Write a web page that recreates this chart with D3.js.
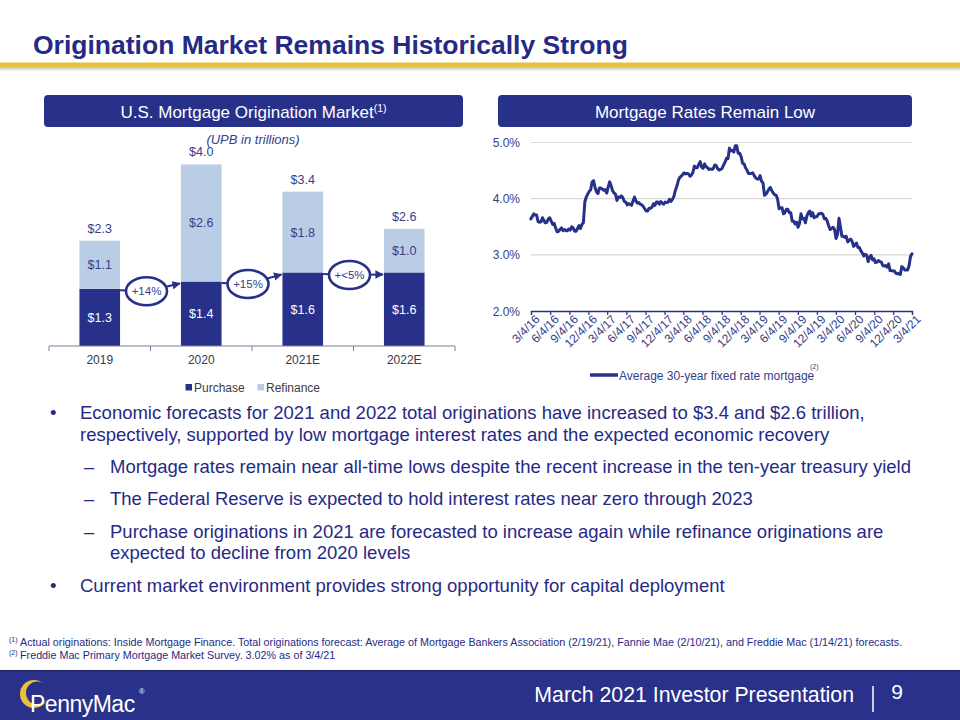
<!DOCTYPE html>
<html>
<head>
<meta charset="utf-8">
<script src="https://cdn.jsdelivr.net/npm/d3@7"></script>
<style>
  html, body { margin: 0; padding: 0; background: #fff; }
  svg { display: block; font-family: "Liberation Sans", Arial, Helvetica, sans-serif; }
</style>
</head>
<body>
<svg id="slide" width="960" height="720"></svg>
<script>
// ---------------- DATA ----------------
const categories = ["2019", "2020", "2021E", "2022E"];
const purchase   = [1.26, 1.42, 1.62, 1.62];
const refinance  = [1.06, 2.58, 1.78, 0.96];
const growthLabels = ["+14%", "+15%", "+<5%"];
const seriesNames = ["Purchase", "Refinance"];

const rateTickLabels = ["3/4/16","6/4/16","9/4/16","12/4/16","3/4/17","6/4/17","9/4/17","12/4/17",
  "3/4/18","6/4/18","9/4/18","12/4/18","3/4/19","6/4/19","9/4/19","12/4/19",
  "3/4/20","6/4/20","9/4/20","12/4/20","3/4/21"];
const rateYTicks = [2, 3, 4, 5];
const rateFirstWeek = "2016-03-03";
// Weekly average 30-year fixed rate (%)
const rates = [
  // 2016 (from Mar 3)
  3.64,3.68,3.73,3.71,3.71, 3.59,3.58,3.59,3.66, 3.61,3.57,3.58,3.64, 3.66,3.60,3.54,3.56,3.48,
  3.41,3.42,3.45,3.48, 3.43,3.45,3.43,3.43, 3.46,3.44,3.50,3.48,3.42, 3.42,3.47,3.52,3.47,
  3.54,3.57,3.94,4.03, 4.08,4.13,4.16,4.30,4.32,
  // 2017
  4.20,4.12,4.09,4.19, 4.19,4.17,4.15,4.16, 4.10,4.21,4.30,4.23,4.14, 4.10,4.08,3.97,4.03,
  4.02,4.05,4.02,3.95, 3.94,3.89,3.91,3.90,3.88, 3.96,4.03,3.96,3.92, 3.93,3.90,3.89,3.86,3.82,
  3.78,3.78,3.83,3.83, 3.85,3.91,3.88,3.94, 3.94,3.90,3.95,3.92,3.90, 3.94,3.93,3.94,3.99,
  // 2018
  3.95,3.99,4.04,4.15, 4.22,4.32,4.38,4.40, 4.43,4.46,4.44,4.45,4.44, 4.40,4.42,4.47,4.58,
  4.55,4.55,4.61,4.66,4.56, 4.54,4.62,4.57,4.55, 4.52,4.53,4.52,4.54, 4.60,4.59,4.53,4.51,4.52,
  4.54,4.60,4.65,4.72, 4.71,4.90,4.85,4.86, 4.83,4.94,4.94,4.81,4.81, 4.75,4.63,4.62,4.55,
  // 2019
  4.51,4.45,4.45,4.45,4.46, 4.41,4.37,4.35,4.35, 4.41,4.31,4.28,4.06, 4.08,4.12,4.17,4.20,
  4.14,4.10,4.07,4.06,3.99, 3.82,3.84,3.84,3.73, 3.75,3.81,3.81,3.75, 3.75,3.60,3.60,3.55,3.58,
  3.49,3.56,3.73,3.64, 3.65,3.57,3.69,3.75,3.78, 3.69,3.75,3.66,3.68, 3.68,3.73,3.73,3.74,
  // 2020
  3.72,3.64,3.65,3.60,3.51, 3.45,3.47,3.49,3.45, 3.29,3.36,3.65,3.50, 3.33,3.33,3.31,3.33,3.23,
  3.26,3.28,3.24,3.15, 3.18,3.21,3.13,3.13, 3.07,3.03,2.98,3.01,2.99, 2.88,2.96,2.99,2.91,
  2.93,2.86,2.87,2.90, 2.88,2.87,2.81,2.80,2.81, 2.78,2.84,2.72,2.72, 2.71,2.71,2.67,2.66,2.67,
  // 2021
  2.65,2.79,2.77,2.73, 2.73,2.73,2.81,2.97, 3.02
];

// ---------------- STYLE ----------------
const NAVY = "#283189";
const TEXT_NAVY = "#262a85";
const LABEL_NAVY = "#34408a";
const LIGHT = "#b9cde5";
const GOLD = "#e7c13c";

const svg = d3.select("#slide");

// ---------------- HEADER ----------------
svg.append("text").attr("x", 33).attr("y", 54)
  .attr("font-size", 26.5).attr("font-weight", "bold").attr("fill", TEXT_NAVY)
  .text("Origination Market Remains Historically Strong");

const defs = svg.append("defs");
const sh = defs.append("linearGradient").attr("id", "shadow").attr("x1", 0).attr("x2", 0).attr("y1", 0).attr("y2", 1);
sh.append("stop").attr("offset", "0%").attr("stop-color", "#b8b8b8");
sh.append("stop").attr("offset", "100%").attr("stop-color", "#ffffff");
svg.append("rect").attr("x", 0).attr("y", 66.5).attr("width", 960).attr("height", 5).attr("fill", "url(#shadow)");
svg.append("rect").attr("x", 0).attr("y", 62.5).attr("width", 960).attr("height", 4.5).attr("fill", GOLD);

// section boxes
function sectionBox(x, w, label, sup) {
  svg.append("rect").attr("x", x).attr("y", 95).attr("width", w).attr("height", 32)
    .attr("rx", 4).attr("fill", NAVY);
  const t = svg.append("text").attr("x", x + w / 2).attr("y", 117.5)
    .attr("text-anchor", "middle").attr("font-size", 17).attr("fill", "#fff");
  t.append("tspan").text(label);
  if (sup) t.append("tspan").attr("font-size", 10.5).attr("dy", -6).text(sup);
}
sectionBox(44, 419, "U.S. Mortgage Origination Market", "(1)");
sectionBox(498, 414, "Mortgage Rates Remain Low", null);

// ---------------- BAR CHART ----------------
const barBase = 346;
const xb = d3.scaleBand().domain(categories).range([49, 455]).paddingInner(0.6).paddingOuter(0.3);
const yb = d3.scaleLinear().domain([0, 4.5]).range([barBase, barBase - 4.5 * 45.4]);
const fmt = v => "$" + d3.format(".1f")(v);

svg.append("text").attr("x", 253).attr("y", 144).attr("text-anchor", "middle")
  .attr("font-size", 13).attr("font-style", "italic").attr("fill", LABEL_NAVY)
  .text("(UPB in trillions)");

const stackData = categories.map((c, i) => ({ cat: c, Purchase: purchase[i], Refinance: refinance[i] }));
const stack = d3.stack().keys(seriesNames)(stackData);
const colors = { Purchase: NAVY, Refinance: LIGHT };

const gBars = svg.append("g");
stack.forEach(layer => {
  gBars.selectAll(null).data(layer).enter().append("rect")
    .attr("x", d => xb(d.data.cat))
    .attr("width", xb.bandwidth())
    .attr("y", d => yb(d[1]))
    .attr("height", d => yb(d[0]) - yb(d[1]))
    .attr("fill", colors[layer.key]);
  gBars.selectAll(null).data(layer).enter().append("text")
    .attr("x", d => xb(d.data.cat) + xb.bandwidth() / 2)
    .attr("y", d => (yb(d[0]) + yb(d[1])) / 2 + 4.5)
    .attr("text-anchor", "middle").attr("font-size", 12.5)
    .attr("fill", layer.key === "Purchase" ? "#fff" : LABEL_NAVY)
    .text(d => fmt(d[1] - d[0]));
});
// totals
gBars.selectAll(null).data(stackData).enter().append("text")
  .attr("x", d => xb(d.cat) + xb.bandwidth() / 2)
  .attr("y", d => yb(d.Purchase + d.Refinance) - 8)
  .attr("text-anchor", "middle").attr("font-size", 12.5).attr("fill", LABEL_NAVY)
  .text(d => fmt(d.Purchase + d.Refinance));

// axis
const step = xb.step();
const x0 = 49;
svg.append("line").attr("x1", 49).attr("x2", 455).attr("y1", barBase).attr("y2", barBase)
  .attr("stroke", "#7f7f9f").attr("stroke-width", 1);
d3.range(categories.length + 1).forEach(i => {
  svg.append("line").attr("x1", x0 + i * step).attr("x2", x0 + i * step)
    .attr("y1", barBase).attr("y2", barBase + 5).attr("stroke", "#7f7f9f");
});
svg.selectAll(null).data(categories).enter().append("text")
  .attr("x", d => xb(d) + xb.bandwidth() / 2).attr("y", 364)
  .attr("text-anchor", "middle").attr("font-size", 12).attr("fill", "#3a3a4a")
  .text(d => d);

// growth arrows with ellipses
defs.append("marker").attr("id", "arrow").attr("viewBox", "0 0 10 10")
  .attr("refX", 9).attr("refY", 5).attr("markerWidth", 4.2).attr("markerHeight", 4.2)
  .attr("markerUnits", "strokeWidth").attr("orient", "auto")
  .append("path").attr("d", "M0,0 L10,5 L0,10 z").attr("fill", NAVY);
growthLabels.forEach((lab, i) => {
  const sx = xb(categories[i]) + xb.bandwidth();
  const sy = yb(purchase[i]) + 1.5;
  const tx = xb(categories[i + 1]) - 1;
  const ty = yb(purchase[i + 1]) + 2;
  const cx = x0 + (i + 1) * step - 4;
  const cy = yb(purchase[i]) + 2.5;
  svg.append("polyline").attr("points", `${sx},${sy} ${cx},${cy} ${tx},${ty}`)
    .attr("fill", "none").attr("stroke", NAVY).attr("stroke-width", 2)
    .attr("marker-end", "url(#arrow)");
  svg.append("ellipse").attr("cx", cx).attr("cy", cy).attr("rx", 20.5).attr("ry", 14)
    .attr("fill", "#fff").attr("stroke", NAVY).attr("stroke-width", 2.6);
  svg.append("text").attr("x", cx).attr("y", cy + 4).attr("text-anchor", "middle")
    .attr("font-size", 11.5).attr("fill", LABEL_NAVY).text(lab);
});

// legend
const lg = svg.append("g");
[["Purchase", 185.5, 194], ["Refinance", 257.5, 266]].forEach(([k, sx, tx]) => {
  lg.append("rect").attr("x", sx).attr("y", 384).attr("width", 6.5).attr("height", 6.5).attr("fill", colors[k]);
  lg.append("text").attr("x", tx).attr("y", 392).attr("font-size", 12).attr("fill", "#3a3a4a").text(k);
});

// ---------------- LINE CHART ----------------
const parse = d3.timeParse("%m/%d/%y");
const tickDates = rateTickLabels.map(parse);
const start = d3.timeParse("%Y-%m-%d")(rateFirstWeek);
const rateData = rates.map((v, i) => ({ date: d3.timeWeek.offset(start, i), v }));
const xl = d3.scaleTime().domain([tickDates[0], tickDates[tickDates.length - 1]]).range([531, 912]);
const yl = d3.scaleLinear().domain([2, 5]).range([311, 142.5]);

const gL = svg.append("g");
gL.selectAll(null).data(rateYTicks.filter(d => d > 2)).enter().append("line")
  .attr("x1", 531).attr("x2", 912).attr("y1", d => yl(d)).attr("y2", d => yl(d))
  .attr("stroke", "#d9d9d9").attr("stroke-width", 1.2);
gL.selectAll(null).data(rateYTicks).enter().append("text")
  .attr("x", 520).attr("y", d => yl(d) + 4.5).attr("text-anchor", "end")
  .attr("font-size", 12).attr("fill", LABEL_NAVY)
  .text(d => d3.format(".1f")(d) + "%");

const xAxis = d3.axisBottom(xl).tickValues(tickDates).tickSize(4).tickFormat((d, i) => rateTickLabels[i]);
const ax = gL.append("g").attr("transform", "translate(0,311)").call(xAxis);
ax.select(".domain").attr("stroke", NAVY).attr("stroke-width", 1.3);
ax.selectAll(".tick line").attr("stroke", NAVY).attr("stroke-width", 1.2);
ax.selectAll(".tick text")
  .attr("font-family", "Liberation Sans, Arial, sans-serif")
  .attr("font-size", 12).attr("fill", LABEL_NAVY)
  .attr("text-anchor", "end")
  .attr("transform", "translate(3,3) rotate(-45)")
  .attr("x", 0).attr("y", 0).attr("dy", "0.71em");

gL.append("path").datum(rateData)
  .attr("fill", "none").attr("stroke", NAVY).attr("stroke-width", 3)
  .attr("stroke-linejoin", "round").attr("stroke-linecap", "round")
  .attr("d", d3.line().x(d => xl(d.date)).y(d => yl(d.v)));

// line legend
svg.append("line").attr("x1", 590).attr("x2", 618).attr("y1", 375).attr("y2", 375)
  .attr("stroke", NAVY).attr("stroke-width", 3.5);
svg.append("text").attr("x", 619).attr("y", 379.5).attr("font-size", 12).attr("fill", LABEL_NAVY)
  .text("Average 30-year fixed rate mortgage");
svg.append("text").attr("x", 810).attr("y", 369).attr("font-size", 7).attr("fill", LABEL_NAVY).text("(2)");

// ---------------- BULLETS ----------------
const bullets = [
  { kind: "dot", lines: ["Economic forecasts for 2021 and 2022 total originations have increased to $3.4 and $2.6 trillion,",
                         "respectively, supported by low mortgage interest rates and the expected economic recovery"], y: 419 },
  { kind: "dash", lines: ["Mortgage rates remain near all-time lows despite the recent increase in the ten-year treasury yield"], y: 473 },
  { kind: "dash", lines: ["The Federal Reserve is expected to hold interest rates near zero through 2023"], y: 505 },
  { kind: "dash", lines: ["Purchase originations in 2021 are forecasted to increase again while refinance originations are",
                          "expected to decline from 2020 levels"], y: 537.5 },
  { kind: "dot", lines: ["Current market environment provides strong opportunity for capital deployment"], y: 591.5 }
];
const gB = svg.append("g").attr("font-size", 18.5).attr("fill", TEXT_NAVY);
bullets.forEach(b => {
  const tx = b.kind === "dot" ? 80 : 110;
  gB.append("text").attr("x", b.kind === "dot" ? 50 : 84).attr("y", b.y)
    .text(b.kind === "dot" ? "•" : "–");
  b.lines.forEach((ln, j) => {
    gB.append("text").attr("x", tx).attr("y", b.y + j * 21.5).text(ln);
  });
});

// ---------------- FOOTNOTES ----------------
const notes = [
  ["(1)", "Actual originations: Inside Mortgage Finance. Total originations forecast: Average of Mortgage Bankers Association (2/19/21), Fannie Mae (2/10/21), and Freddie Mac (1/14/21) forecasts.", 645.5],
  ["(2)", "Freddie Mac Primary Mortgage Market Survey. 3.02% as of 3/4/21", 658.5]
];
notes.forEach(([s, t, y]) => {
  svg.append("text").attr("x", 9).attr("y", y - 3.5).attr("font-size", 7).attr("fill", TEXT_NAVY).text(s);
  svg.append("text").attr("x", 20).attr("y", y).attr("font-size", 10.75).attr("fill", TEXT_NAVY).text(t);
});

// ---------------- FOOTER ----------------
svg.append("rect").attr("x", 0).attr("y", 671).attr("width", 960).attr("height", 49).attr("fill", "#29318a");
svg.append("rect").attr("x", 0).attr("y", 670).attr("width", 960).attr("height", 1.2).attr("fill", "#1c2166");
// logo
svg.append("circle").attr("cx", 34).attr("cy", 694).attr("r", 14).attr("fill", GOLD);
svg.append("circle").attr("cx", 37.5).attr("cy", 693).attr("r", 11.5).attr("fill", "#29318a");
svg.append("text").attr("x", 30).attr("y", 712).attr("font-size", 23).attr("fill", "#fff")
  .attr("letter-spacing", -0.5).text("PennyMac");
svg.append("text").attr("x", 139).attr("y", 694).attr("font-size", 7.5).attr("fill", "#fff").text("®");

svg.append("text").attr("x", 854).attr("y", 702).attr("text-anchor", "end")
  .attr("font-size", 21.3).attr("fill", "#fff").text("March 2021 Investor Presentation");
svg.append("line").attr("x1", 873).attr("x2", 873).attr("y1", 686).attr("y2", 712)
  .attr("stroke", "#fff").attr("stroke-width", 1.5);
svg.append("text").attr("x", 897).attr("y", 699).attr("text-anchor", "middle")
  .attr("font-size", 21).attr("fill", "#fff").text("9");
</script>
</body>
</html>
